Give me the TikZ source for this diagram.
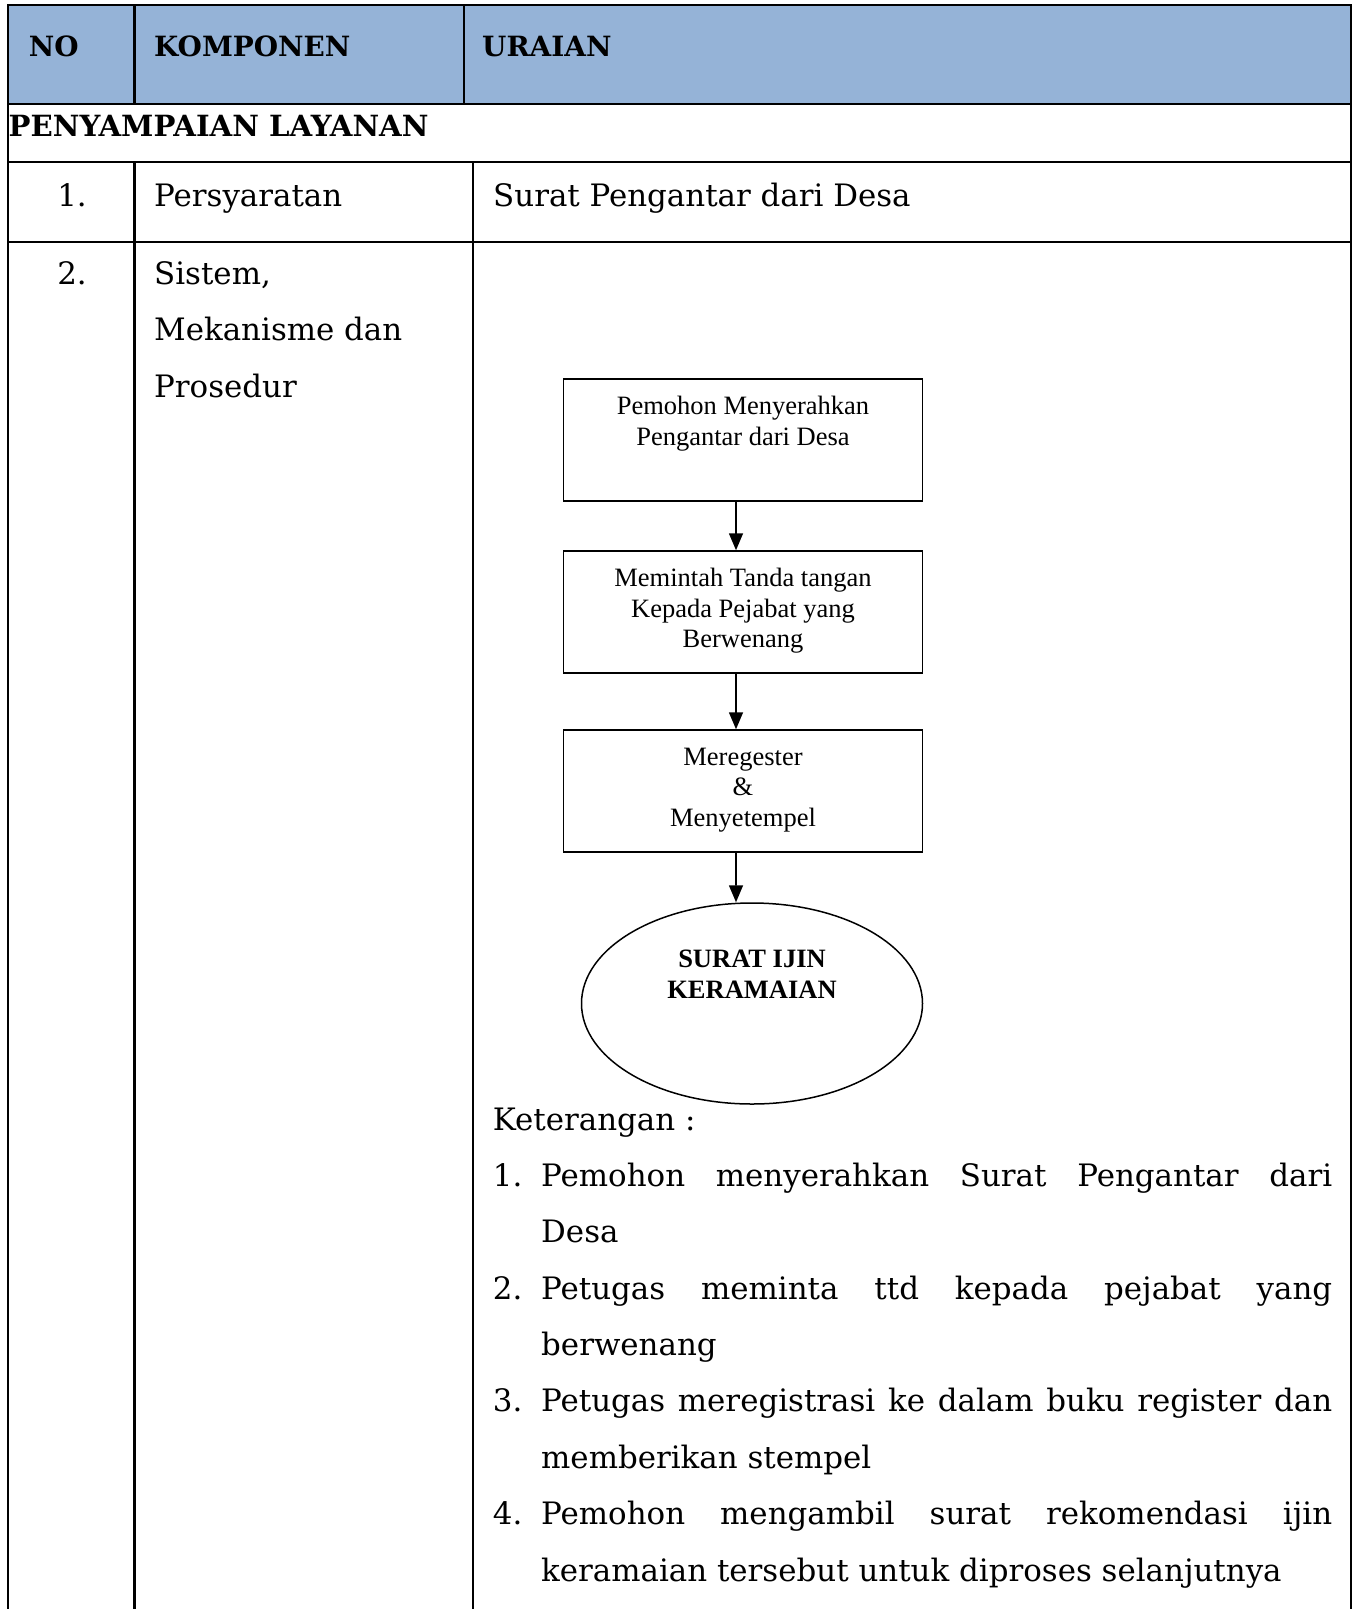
\documentclass[tikz,border=0pt]{standalone}
\usepackage{fontspec}
\setmainfont{DejaVu Serif}
\newfontfamily\flowfont{Liberation Serif}
\usetikzlibrary{arrows.meta,shapes.geometric}
\definecolor{headblue}{HTML}{95B3D7}
\begin{document}
\begin{tikzpicture}[x=1bp,y=-1bp,
  grid/.style={line width=2.8bp,line cap=rect},
  cell/.style={inner sep=0pt,anchor=base west,font=\fontsize{31}{37}\selectfont},
  headcell/.style={cell,font=\fontsize{28}{34}\selectfont\bfseries},
  numcell/.style={cell,anchor=base},
  stepbox/.style={draw,line width=1.5bp,rectangle,minimum width=359bp,minimum height=122bp,inner sep=0pt},
  steptext/.style={inner sep=0pt,anchor=north,align=center,font=\flowfont\fontsize{26.6}{30.8}\selectfont},
  flow/.style={line width=1.6bp,-{Triangle[length=17bp,width=14bp]}}]
\useasboundingbox (0,0) rectangle (1359,1609);

% header band
\fill[headblue] (8,5) rectangle (1351,104);

% table rules
\draw[grid] (8,5) -- (1351,5);
\draw[grid] (8,104) -- (1351,104);
\draw[grid] (8,162) -- (1351,162);
\draw[grid] (8,242) -- (1351,242);
\draw[grid] (8,5) -- (8,1612);
\draw[grid] (1351,5) -- (1351,1612);
\draw[grid] (134.5,5) -- (134.5,104);
\draw[grid] (464,5) -- (464,104);
\draw[grid] (134.5,162) -- (134.5,1612);
\draw[grid] (473,162) -- (473,1612);

% header
\node[headcell] (hno) at (28.7,57) {NO};
\node[headcell] (hkomp) at (154,57) {KOMPONEN};
\node[headcell] (hur) at (482,57) {URAIAN};
\node[headcell,font=\fontsize{29.3}{34}\selectfont\bfseries] (sect) at (8.5,136) {PENYAMPAIAN LAYANAN};

% row 1
\node[numcell] (n1) at (72,206) {1.};
\node[cell] (k1) at (154,206) {Persyaratan};
\node[cell] (u1) at (493,206) {Surat Pengantar dari Desa};

% row 2
\node[numcell] (n2) at (72,284) {2.};
\node[cell] (k2a) at (154,284) {Sistem,};
\node[cell] (k2b) at (154,340.5) {Mekanisme dan};
\node[cell] (k2c) at (154,397) {Prosedur};

% flowchart
\node[stepbox] (b1) at (743,440) {};
\node[steptext] (t1) at ([yshift=-17.5bp]b1.north) {Pemohon Menyerahkan\\Pengantar dari Desa};
\node[stepbox] (b2) at (743,612) {};
\node[steptext] (t2) at ([yshift=-17.5bp]b2.north) {Memintah Tanda tangan\\Kepada Pejabat yang\\Berwenang};
\node[stepbox] (b3) at (743,791) {};
\node[steptext] (t3) at ([yshift=-18.5bp]b3.north) {Meregester\\\&\\Menyetempel};
\node[draw,ellipse,line width=1.5bp,minimum width=341bp,minimum height=201bp,inner sep=0pt] (e) at (752,1003.5) {};
\node[steptext,anchor=center,font=\flowfont\fontsize{26.6}{30.8}\selectfont\bfseries] (te) at (752,974) {SURAT IJIN\\KERAMAIAN};

\draw[flow] ([xshift=-7bp]b1.south) -- ([xshift=-7bp]b2.north);
\draw[flow] ([xshift=-7bp]b2.south) -- ([xshift=-7bp]b3.north);
\draw[flow] ([xshift=-7bp]b3.south) -- ([xshift=-16bp]e.north);

% notes
\node[cell] (ket) at (492.7,1130) {Keterangan :};
\node[cell] (m1) at (492.7,1186) {1.};
\node[cell] (l1) at (541,1186) {\makebox[791bp][s]{Pemohon menyerahkan Surat Pengantar dari}};
\node[cell] (l2) at (541,1242.5) {Desa};
\node[cell] (m2) at (492.7,1299) {2.};
\node[cell] (l3) at (541,1299) {\makebox[791bp][s]{Petugas meminta ttd kepada pejabat yang}};
\node[cell] (l4) at (541,1355.4) {berwenang};
\node[cell] (m3) at (492.7,1411.8) {3.};
\node[cell] (l5) at (541,1411.8) {\makebox[791bp][s]{Petugas meregistrasi ke dalam buku register dan}};
\node[cell] (l6) at (541,1468.3) {memberikan stempel};
\node[cell] (m4) at (492.7,1524.7) {4.};
\node[cell] (l7) at (541,1524.7) {\makebox[791bp][s]{Pemohon mengambil surat rekomendasi ijin}};
\node[cell] (l8) at (541,1581.2) {keramaian tersebut untuk diproses selanjutnya};
\end{tikzpicture}
\end{document}
